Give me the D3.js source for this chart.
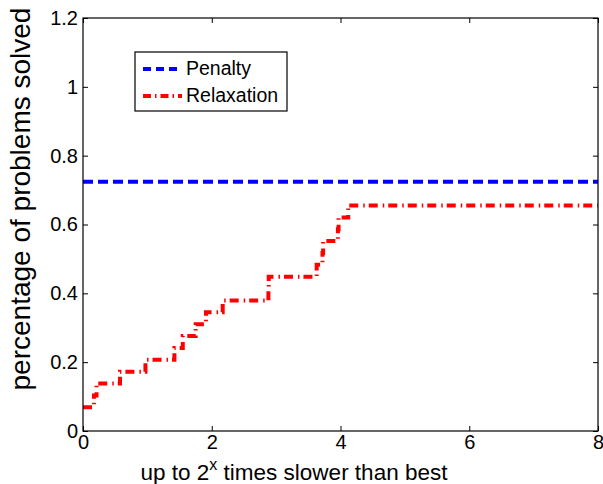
<!DOCTYPE html>
<html>
<head>
<meta charset="utf-8">
<script src="https://cdn.jsdelivr.net/npm/d3@7"></script>
<style>
  body { margin: 0; background: #fff; }
  text { font-family: "Liberation Sans", Arial, sans-serif; }
</style>
</head>
<body>
<div id="chart"></div>
<script>
// performance profile: share of 29 problems solved
var penaltyX = [0, 8];
var penaltyY = [21/29, 21/29];

var relaxX = [0, 0.17, 0.21, 0.575, 0.97, 1.42, 1.55, 1.75, 1.91, 2.17, 2.88, 2.885, 3.63, 3.72, 3.73, 3.96, 3.97, 4.12, 8];
var relaxY = [2/29, 3/29, 4/29, 5/29, 6/29, 7/29, 8/29, 9/29, 10/29, 11/29, 12/29, 13/29, 14/29, 15/29, 16/29, 17/29, 18/29, 19/29, 19/29];

var xTicks = [0, 2, 4, 6, 8];
var yTicks = [0, 0.2, 0.4, 0.6, 0.8, 1, 1.2];
var seriesNames = ["Penalty", "Relaxation"];

var margin = {top: 18, right: 5, bottom: 53, left: 83},
    width = 603 - margin.left - margin.right,
    height = 484 - margin.top - margin.bottom;

var svg = d3.select("#chart").append("svg")
    .attr("width", 603)
    .attr("height", 484);

var g = svg.append("g")
    .attr("transform", "translate(" + margin.left + "," + margin.top + ")");

var x = d3.scaleLinear().domain([0, 8]).range([0, width]);
var y = d3.scaleLinear().domain([0, 1.2]).range([height, 0]);

var line = d3.line()
    .x(function(d) { return x(d[0]); })
    .y(function(d) { return y(d[1]); });

var stepLine = d3.line()
    .curve(d3.curveStepAfter)
    .x(function(d) { return x(d[0]); })
    .y(function(d) { return y(d[1]); });

g.append("path")
    .datum(d3.zip(penaltyX, penaltyY))
    .attr("d", line)
    .attr("fill", "none")
    .attr("stroke", "#0000ff")
    .attr("stroke-width", 4)
    .attr("stroke-dasharray", "10,5");

g.append("path")
    .datum(d3.zip(relaxX, relaxY))
    .attr("d", stepLine)
    .attr("fill", "none")
    .attr("stroke", "#ff0000")
    .attr("stroke-width", 4)
    .attr("stroke-dasharray", "9,5,1.5,4");

// axes: ticks pointing inward, mirrored on top and right
function styleAxis(sel) {
    sel.select(".domain").remove();
    sel.selectAll("line").attr("stroke", "#000").attr("stroke-width", 1);
    sel.selectAll("text").attr("font-size", 20).attr("fill", "#000");
}

g.append("g")
    .attr("transform", "translate(0," + height + ")")
    .call(d3.axisBottom(x).tickValues(xTicks).tickSize(-5).tickPadding(4).tickFormat(d3.format("d")))
    .call(styleAxis);

g.append("g")
    .call(d3.axisLeft(y).tickValues(yTicks).tickSize(-5).tickPadding(5).tickFormat(function(d) { return d3.format("")(+d.toFixed(1)); }))
    .call(styleAxis);

g.append("g")
    .call(d3.axisTop(x).tickValues(xTicks).tickSize(-5).tickFormat(""))
    .call(styleAxis);

g.append("g")
    .attr("transform", "translate(" + width + ",0)")
    .call(d3.axisRight(y).tickValues(yTicks).tickSize(-5).tickFormat(""))
    .call(styleAxis);

g.append("rect")
    .attr("width", width)
    .attr("height", height)
    .attr("fill", "none")
    .attr("stroke", "#000")
    .attr("stroke-width", 1.2);

// axis labels
var xl = svg.append("text")
    .attr("x", 294)
    .attr("y", 480)
    .attr("text-anchor", "middle")
    .attr("font-size", 22.5);
xl.append("tspan").text("up to 2");
xl.append("tspan").attr("dy", -10).attr("font-size", 16).text("x");
xl.append("tspan").attr("dy", 10).text(" times slower than best");

svg.append("text")
    .attr("transform", "translate(30,199) rotate(-90)")
    .attr("text-anchor", "middle")
    .attr("font-size", 28)
    .text("percentage of problems solved");

// legend
var legend = svg.append("g").attr("transform", "translate(135,52)");
legend.append("rect")
    .attr("width", 152)
    .attr("height", 59)
    .attr("fill", "#fff")
    .attr("stroke", "#000")
    .attr("stroke-width", 1.2);

var legendStyles = [
    {color: "#0000ff", dash: "8,5"},
    {color: "#ff0000", dash: "8,4,1.5,4"}
];
seriesNames.forEach(function(name, i) {
    var ly = 17 + i * 27;
    legend.append("line")
        .attr("x1", 8).attr("x2", 47)
        .attr("y1", ly).attr("y2", ly)
        .attr("stroke", legendStyles[i].color)
        .attr("stroke-width", 4)
        .attr("stroke-dasharray", legendStyles[i].dash);
    legend.append("text")
        .attr("x", 51)
        .attr("y", ly + 6)
        .attr("font-size", 19.5)
        .text(name);
});
</script>
</body>
</html>
